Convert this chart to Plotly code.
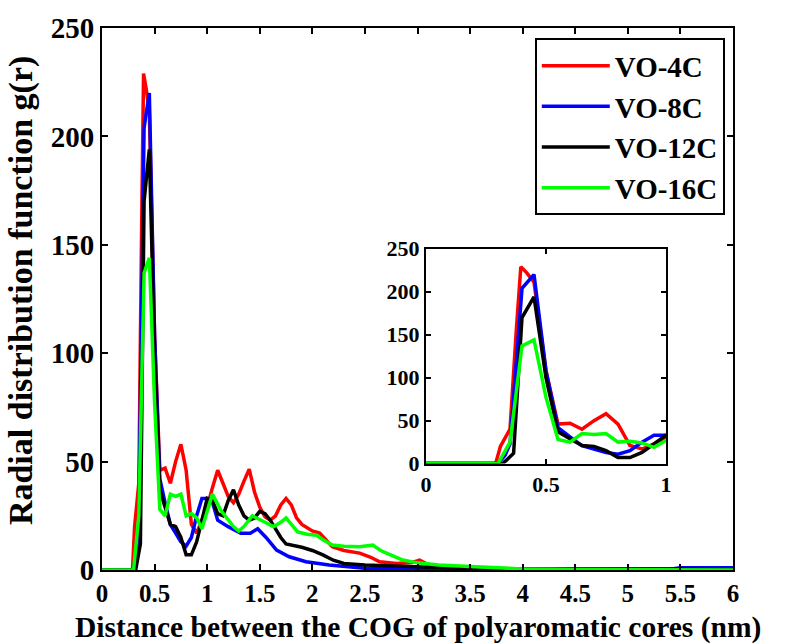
import plotly.graph_objects as go

# ---------------- data ----------------
series_names = ["VO-4C", "VO-8C", "VO-12C", "VO-16C"]
series_colors = ["#ff0000", "#0000ff", "#000000", "#00ff00"]

red_x = [0, 0.29, 0.31, 0.33, 0.35, 0.375, 0.395, 0.42, 0.45, 0.5, 0.55, 0.6, 0.65, 0.7, 0.75, 0.8, 0.85, 0.9, 0.95, 1.0,
         1.05, 1.1, 1.15, 1.2, 1.25, 1.3, 1.35, 1.4, 1.45, 1.5, 1.55, 1.6, 1.65, 1.7, 1.75, 1.8, 1.85, 1.9, 2.0, 2.07,
         2.19, 2.3, 2.45, 2.55, 2.64, 2.8, 2.95, 3.02, 3.1, 3.3, 3.6, 4.0, 6.0]
red_y = [0, 0, 20, 30, 40, 150, 229, 222, 211, 108, 46, 47, 40, 50, 58, 46, 21, 17, 23, 29,
         38, 46, 40, 34, 31, 35, 41, 46.5, 36, 29, 24.5, 23, 25, 30, 33, 30, 24, 21, 18, 17,
         10.7, 9, 7.8, 6, 3.8, 3, 3.5, 4.5, 2.5, 1.2, 0.5, 0.2, 0]

blue_x = [0, 0.3, 0.33, 0.35, 0.4, 0.45, 0.5, 0.55, 0.6, 0.65, 0.7, 0.75, 0.8, 0.85, 0.9, 0.95, 1.0, 1.04,
          1.1, 1.2, 1.32, 1.41, 1.48, 1.56, 1.66, 1.78, 1.94, 2.16, 2.5, 3.0, 5.4, 5.5, 6.0]
blue_y = [0, 0, 10, 23, 204, 220, 108, 42, 31, 21, 17, 13, 11, 15, 25, 33, 33, 33,
          23, 20, 17, 17, 19, 15, 9.2, 6.1, 3.8, 2.3, 0.8, 0.3, 0.3, 1, 1]

black_x = [0, 0.32, 0.35, 0.365, 0.4, 0.45, 0.5, 0.55, 0.6, 0.65, 0.7, 0.75, 0.8, 0.85, 0.9, 0.95, 1.0, 1.05,
           1.1, 1.15, 1.2, 1.25, 1.3, 1.35, 1.4, 1.45, 1.5, 1.55, 1.6, 1.65, 1.7, 1.75, 1.8, 1.9, 2.0, 2.1,
           2.2, 2.3, 2.5, 2.7, 2.9, 3.2, 3.6, 4.0, 4.4, 5.5, 6.0]
black_y = [0, 0, 8, 12, 170, 194, 100, 37, 29, 21, 20, 15, 7, 7, 13, 23, 33, 32,
           26, 25, 32, 37, 30, 25, 23, 24, 27, 26, 23, 19, 15, 12, 11.5, 10.5, 9, 7,
           4.5, 3, 2.3, 2, 1.5, 1, 0.5, 0.3, 0.5, 0.5, 0]

green_x = [0, 0.3, 0.35, 0.4, 0.45, 0.5, 0.55, 0.6, 0.65, 0.7, 0.75, 0.8, 0.85, 0.9, 0.95, 1.0, 1.05,
           1.13, 1.2, 1.25, 1.3, 1.35, 1.43, 1.5, 1.55, 1.63, 1.7, 1.75, 1.8, 1.86, 1.95, 2.04, 2.1, 2.19,
           2.3, 2.45, 2.575, 2.65, 2.71, 2.86, 3.0, 3.08, 3.2, 3.4, 3.6, 3.78, 4.0, 4.5, 6.0]
green_y = [0, 0, 25, 137, 144, 77, 28, 25, 35, 34, 35, 25, 26, 24, 19, 27, 35,
           27.5, 23, 20, 18, 20, 25, 23, 22, 20, 22, 24, 21, 17.6, 16.5, 16, 14, 11.5,
           11, 10.7, 11.5, 9, 7.7, 4.6, 3.3, 2.8, 2.3, 1.8, 1.3, 1, 0.5, 0.2, 0]

all_x = [red_x, blue_x, black_x, green_x]
all_y = [red_y, blue_y, black_y, green_y]

main_xticks = [0, 0.5, 1, 1.5, 2, 2.5, 3, 3.5, 4, 4.5, 5, 5.5, 6]
main_xticklabels = ["0", "0.5", "1", "1.5", "2", "2.5", "3", "3.5", "4", "4.5", "5", "5.5", "6"]
main_yticks = [0, 50, 100, 150, 200, 250]
inset_xticks = [0, 0.5, 1]
inset_xticklabels = ["0", "0.5", "1"]
inset_yticks = [0, 50, 100, 150, 200, 250]

x_title = "Distance between the COG of polyaromatic cores (nm)"
y_title = "Radial distribution function g(r)"

# ---------------- figure ----------------
FONT = "Liberation Serif"
fig = go.Figure()

for name, color, xs, ys in zip(series_names, series_colors, all_x, all_y):
    fig.add_trace(go.Scatter(x=xs, y=ys, mode="lines", name=name,
                             line=dict(color=color, width=3.5),
                             xaxis="x", yaxis="y"))
for name, color, xs, ys in zip(series_names, series_colors, all_x, all_y):
    fig.add_trace(go.Scatter(x=xs, y=ys, mode="lines", name=name, showlegend=False,
                             line=dict(color=color, width=3.5),
                             xaxis="x2", yaxis="y2", cliponaxis=True))

axis_common = dict(showgrid=False, zeroline=False, showline=True, linecolor="black",
                   linewidth=2, mirror="ticks", ticks="inside", tickcolor="black",
                   tickwidth=1.5)

fig.update_layout(
    width=809, height=644,
    margin=dict(l=102, r=76, t=25, b=74),
    paper_bgcolor="white", plot_bgcolor="white",
    font=dict(family=FONT, color="black"),
    xaxis=dict(domain=[0, 1], range=[0, 6], tickvals=main_xticks, ticktext=main_xticklabels,
               ticklen=6, tickfont=dict(family=FONT, size=25, color="black", weight="bold"),
               **axis_common),
    yaxis=dict(domain=[0, 1], range=[0, 250], tickvals=main_yticks,
               ticklen=6, tickfont=dict(family=FONT, size=29, color="black", weight="bold"),
               **axis_common),
    xaxis2=dict(domain=[0.5135, 0.8938], anchor="y2", range=[0, 1], tickvals=inset_xticks,
                ticktext=inset_xticklabels, ticklen=5,
                tickfont=dict(family=FONT, size=22, color="black", weight="bold"), **axis_common),
    yaxis2=dict(domain=[0.1963, 0.5927], anchor="x2", range=[0, 250], tickvals=inset_yticks,
                ticklen=5, tickfont=dict(family=FONT, size=22, color="black", weight="bold"),
                **axis_common),
    legend=dict(x=0.987, xanchor="right", y=0.981, yanchor="top",
                bgcolor="white", bordercolor="black", borderwidth=2, itemwidth=68,
                font=dict(family=FONT, size=29, color="black", weight="bold"), tracegroupgap=0),
    showlegend=True,
)

fig.add_annotation(text="<b>" + x_title + "</b>", xref="paper", yref="paper",
                   x=0.5, y=-0.1055, xanchor="center", yanchor="middle", showarrow=False,
                   font=dict(family=FONT, size=29.5, color="black"))
fig.add_annotation(text="<b>" + y_title + "</b>", xref="paper", yref="paper",
                   x=-0.128, y=0.515, xanchor="center", yanchor="middle", showarrow=False,
                   textangle=-90, font=dict(family=FONT, size=34, color="black"))

fig.write_html("out.html")
